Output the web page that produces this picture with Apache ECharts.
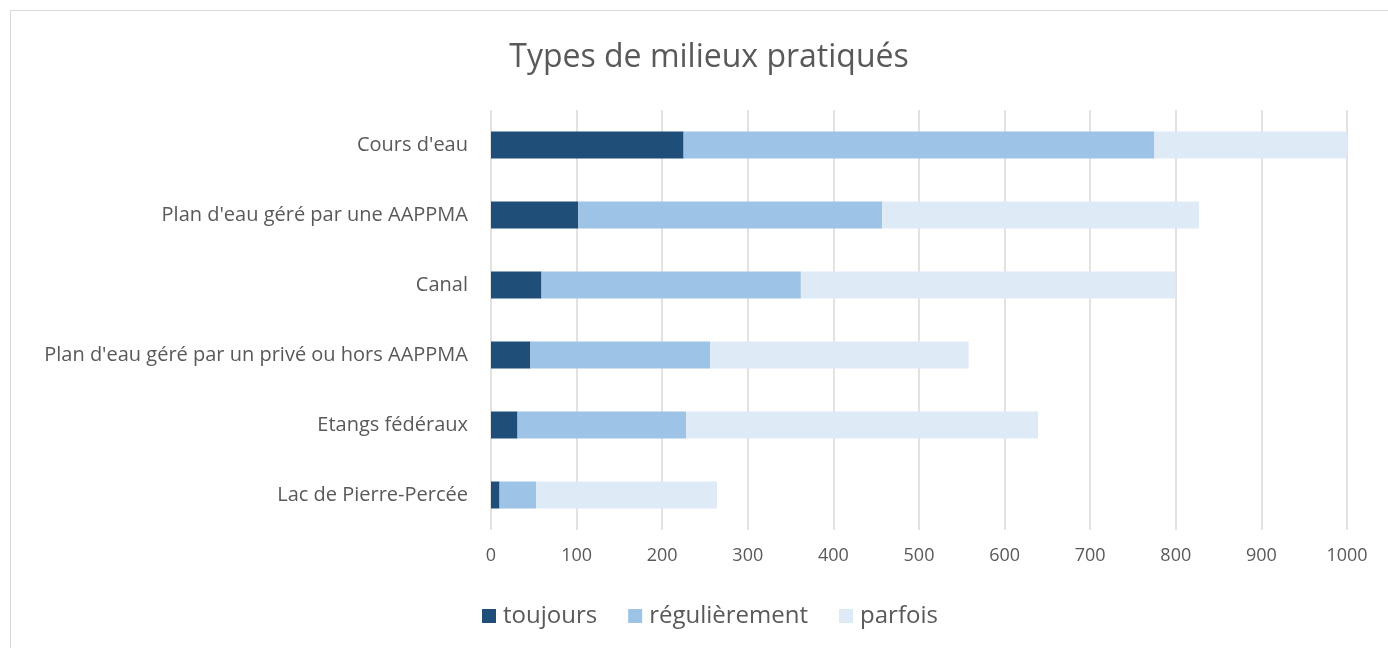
<!DOCTYPE html>
<html>
<head>
<meta charset="utf-8">
<script src="https://cdn.jsdelivr.net/npm/echarts@6/dist/echarts.min.js"></script>
<style>
  html, body { margin: 0; padding: 0; background: #fff; }
  #frame {
    position: absolute; left: 10px; top: 10px; width: 1390px; height: 650px;
    border: 1px solid #d9d9d9; box-sizing: border-box;
  }
  #chart { position: absolute; left: 0; top: 0; width: 1388px; height: 648px; }
</style>
</head>
<body>
<div id="frame"></div>
<div id="chart"></div>
<script>
// catégories (de haut en bas)
const categories = [
  "Cours d'eau",
  "Plan d'eau géré par une AAPPMA",
  'Canal',
  "Plan d'eau géré par un privé ou hors AAPPMA",
  'Etangs fédéraux',
  'Lac de Pierre-Percée'
]
const toujours = [225, 102, 59, 46, 31, 10]
const regulierement = [550, 355, 303, 210, 197, 43]
const parfois = [225, 370, 438, 302, 411, 211]

const textColor = '#595959'
const font = '"Open Sans", sans-serif'

const chart = echarts.init(document.getElementById('chart'))

const makeSeries = (name, data, color) => ({
  name: name,
  type: 'bar',
  stack: 'total',
  data: data,
  barWidth: 27,
  itemStyle: { color: color },
  emphasis: { disabled: true }
})

chart.setOption({
  animation: false,
  textStyle: { fontFamily: font },
  title: {
    text: 'Types de milieux pratiqués',
    left: 704,
    textAlign: 'center',
    top: 37,
    textStyle: { fontFamily: font, fontSize: 32, fontWeight: 'normal', color: textColor }
  },
  legend: {
    bottom: 15,
    left: 477,
    itemWidth: 14,
    itemHeight: 14,
    itemGap: 31,
    icon: 'rect',
    textStyle: { fontFamily: font, fontSize: 24, color: textColor, padding: [0, 0, 0, 2] }
  },
  grid: { left: 491, right: 41, top: 110, bottom: 118 },
  xAxis: {
    type: 'value',
    min: 0,
    max: 1000,
    interval: 100,
    axisLine: { show: false },
    axisTick: { show: false },
    axisLabel: {
      color: textColor, fontSize: 18, fontFamily: font, margin: 17,
      formatter: (v) => String(v)
    },
    splitLine: { lineStyle: { color: '#d9d9d9', width: 1.5 } }
  },
  yAxis: {
    type: 'category',
    inverse: true,
    data: categories,
    axisLine: { show: false },
    axisTick: { show: false },
    axisLabel: { color: textColor, fontSize: 20, fontFamily: font, margin: 23 }
  },
  series: [
    makeSeries('toujours', toujours, '#1f4e79'),
    makeSeries('régulièrement', regulierement, '#9dc3e6'),
    makeSeries('parfois', parfois, '#deeaf6')
  ]
})
</script>
</body>
</html>
